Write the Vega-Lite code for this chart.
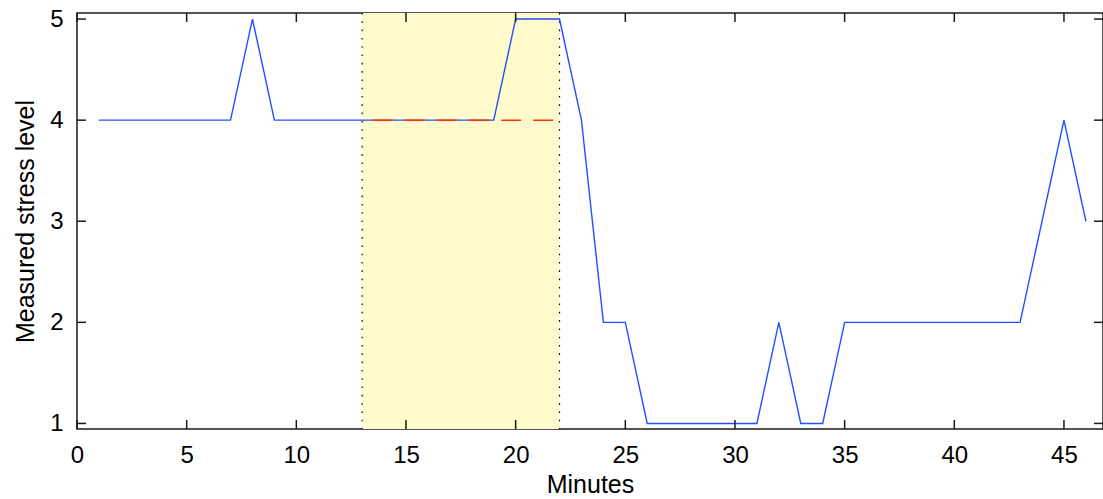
{
  "$schema": "https://vega.github.io/schema/vega-lite/v6.json",
  "autosize": "none",
  "padding": {"left": 77, "top": 13, "right": 0, "bottom": 70},
  "width": 1026,
  "height": 416,
  "background": "#ffffff",
  "datasets": {
    "stress": [
      {"minute": 1, "level": 4}, {"minute": 2, "level": 4}, {"minute": 3, "level": 4},
      {"minute": 4, "level": 4}, {"minute": 5, "level": 4}, {"minute": 6, "level": 4},
      {"minute": 7, "level": 4}, {"minute": 8, "level": 5}, {"minute": 9, "level": 4},
      {"minute": 10, "level": 4}, {"minute": 11, "level": 4}, {"minute": 12, "level": 4},
      {"minute": 13, "level": 4}, {"minute": 14, "level": 4}, {"minute": 15, "level": 4},
      {"minute": 16, "level": 4}, {"minute": 17, "level": 4}, {"minute": 18, "level": 4},
      {"minute": 19, "level": 4}, {"minute": 20, "level": 5}, {"minute": 21, "level": 5},
      {"minute": 22, "level": 5}, {"minute": 23, "level": 4}, {"minute": 24, "level": 2},
      {"minute": 25, "level": 2}, {"minute": 26, "level": 1}, {"minute": 27, "level": 1},
      {"minute": 28, "level": 1}, {"minute": 29, "level": 1}, {"minute": 30, "level": 1},
      {"minute": 31, "level": 1}, {"minute": 32, "level": 2}, {"minute": 33, "level": 1},
      {"minute": 34, "level": 1}, {"minute": 35, "level": 2}, {"minute": 36, "level": 2},
      {"minute": 37, "level": 2}, {"minute": 38, "level": 2}, {"minute": 39, "level": 2},
      {"minute": 40, "level": 2}, {"minute": 41, "level": 2}, {"minute": 42, "level": 2},
      {"minute": 43, "level": 2}, {"minute": 44, "level": 3}, {"minute": 45, "level": 4},
      {"minute": 46, "level": 3}
    ],
    "band": [{"start": 13, "end": 22}],
    "marks": [{"minute": 13}, {"minute": 22}],
    "ref": [{"minute": 13, "level": 4}, {"minute": 22, "level": 4}],
    "xticks": [{"minute": 0}, {"minute": 5}, {"minute": 10}, {"minute": 15}, {"minute": 20}, {"minute": 25}, {"minute": 30}, {"minute": 35}, {"minute": 40}, {"minute": 45}],
    "yticks": [{"level": 1}, {"level": 2}, {"level": 3}, {"level": 4}, {"level": 5}]
  },
  "layer": [
    {
      "layer": [
        {
          "data": {"name": "band"},
          "mark": {"type": "rect", "color": "#fffbcc"},
          "encoding": {
            "x": {"field": "start", "type": "quantitative",
                  "scale": {"domain": [0, 46.78], "nice": false, "zero": false},
                  "axis": {"values": [0, 5, 10, 15, 20, 25, 30, 35, 40, 45], "title": "Minutes", "ticks": false, "labelPadding": 14, "titleBaseline": "alphabetic", "titleY": 63}},
            "x2": {"field": "end"}
          }
        },
        {
          "data": {"name": "marks"},
          "mark": {"type": "rule", "color": "#000000", "strokeWidth": 1.2, "strokeDash": [1.6, 6.7]},
          "encoding": {
            "x": {"field": "minute", "type": "quantitative"}
          }
        },
        {
          "data": {"name": "stress"},
          "mark": {"type": "line", "color": "#2050ff", "strokeWidth": 1.4},
          "encoding": {
            "x": {"field": "minute", "type": "quantitative"},
            "y": {"field": "level", "type": "quantitative",
                  "scale": {"domain": [0.945, 5.06], "nice": false, "zero": false},
                  "axis": {"values": [1, 2, 3, 4, 5], "format": "d", "title": "Measured stress level", "ticks": false, "labelPadding": 14, "titleBaseline": "alphabetic", "titleX": -44}}
          }
        },
        {
          "data": {"name": "ref"},
          "mark": {"type": "line", "color": "#ff3300", "strokeWidth": 1.5, "strokeDash": [20, 12], "strokeDashOffset": 21},
          "encoding": {
            "x": {"field": "minute", "type": "quantitative"},
            "y": {"field": "level", "type": "quantitative"}
          }
        }
      ]
    },
    {
      "layer": [
        {
          "data": {"name": "xticks"},
          "mark": {"type": "tick", "orient": "vertical", "size": 9, "thickness": 1.5, "color": "#1a1a1a", "opacity": 1, "yOffset": -4.5},
          "encoding": {
            "x": {"field": "minute", "type": "quantitative", "scale": {"domain": [0, 46.78], "nice": false, "zero": false}, "axis": null},
            "y": {"datum": 0.945, "type": "quantitative", "scale": {"domain": [0.945, 5.06], "nice": false, "zero": false}, "axis": null}
          }
        },
        {
          "data": {"name": "xticks"},
          "mark": {"type": "tick", "orient": "vertical", "size": 9, "thickness": 1.5, "color": "#1a1a1a", "opacity": 1, "yOffset": 4.5},
          "encoding": {
            "x": {"field": "minute", "type": "quantitative", "axis": null},
            "y": {"datum": 5.06, "type": "quantitative", "axis": null}
          }
        },
        {
          "data": {"name": "yticks"},
          "mark": {"type": "tick", "orient": "horizontal", "size": 9, "thickness": 1.5, "color": "#1a1a1a", "opacity": 1, "xOffset": 4.5},
          "encoding": {
            "y": {"field": "level", "type": "quantitative", "axis": null},
            "x": {"datum": 0, "type": "quantitative", "axis": null}
          }
        },
        {
          "data": {"name": "yticks"},
          "mark": {"type": "tick", "orient": "horizontal", "size": 9, "thickness": 1.5, "color": "#1a1a1a", "opacity": 1, "xOffset": -4.5},
          "encoding": {
            "y": {"field": "level", "type": "quantitative", "axis": null},
            "x": {"datum": 46.78, "type": "quantitative", "axis": null}
          }
        }
      ]
    }
  ],
  "resolve": {"axis": {"x": "independent", "y": "independent"}},
  "config": {
    "view": {"stroke": "#1a1a1a", "strokeWidth": 1.5},
    "axis": {
      "domain": false,
      "grid": false,
      "labelFlush": false,
      "labelFont": "Liberation Sans",
      "labelFontSize": 24,
      "labelColor": "#000000",
      "titleFont": "Liberation Sans",
      "titleFontSize": 25,
      "titleFontWeight": "normal",
      "titleColor": "#000000"
    }
  }
}
